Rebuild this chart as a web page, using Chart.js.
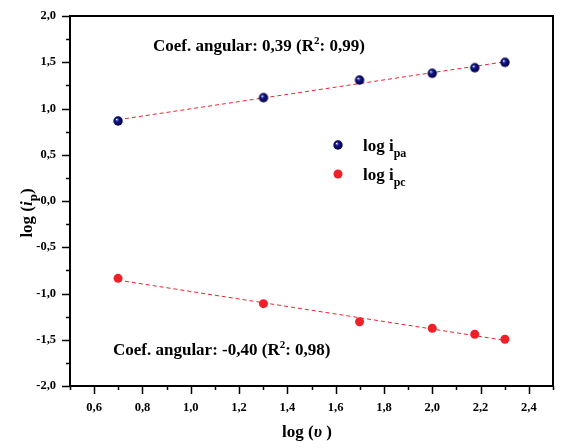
<!DOCTYPE html>
<html>
<head>
<meta charset="utf-8">
<script src="https://cdn.jsdelivr.net/npm/chart.js@4.4.1/dist/chart.umd.min.js"></script>
<style>
  html, body { margin: 0; padding: 0; background: #fff; }
  #wrap { width: 564px; height: 448px; }
</style>
</head>
<body>
<div id="wrap"><canvas id="chartLog"></canvas></div>
<script>
// log(v) pour chaque vitesse de balayage
const logV = [0.699, 1.301, 1.699, 2.0, 2.176, 2.301];
// log(ipa) et log(ipc)
const logIpa = [0.865, 1.117, 1.308, 1.381, 1.441, 1.499];
const logIpc = [-0.836, -1.110, -1.305, -1.376, -1.441, -1.495];

const xTicks = [0.6, 0.8, 1.0, 1.2, 1.4, 1.6, 1.8, 2.0, 2.2, 2.4];
const yTicks = [-2.0, -1.5, -1.0, -0.5, 0.0, 0.5, 1.0, 1.5, 2.0];

const SERIF = "'Liberation Serif', 'Times New Roman', serif";
const RED = "#ee2129";
const FIT = "#e8262e";

function fmt(v) {
    return v.toFixed(1).replace(".", ",");
}

// régression linéaire simple -> segment entre le premier et le dernier x
function fitLine(xs, ys) {
    const n = xs.length;
    const mx = xs.reduce((a, b) => a + b, 0) / n;
    const my = ys.reduce((a, b) => a + b, 0) / n;
    let sxy = 0, sxx = 0;
    for (let i = 0; i < n; i++) {
        sxy += (xs[i] - mx) * (ys[i] - my);
        sxx += (xs[i] - mx) * (xs[i] - mx);
    }
    const b = sxy / sxx;
    const a = my - b * mx;
    const x0 = xs[0], x1 = xs[n - 1];
    return [{ x: x0, y: a + b * x0 }, { x: x1, y: a + b * x1 }];
}

// petite bille bleue avec reflet
function makeBall(r) {
    const c = document.createElement("canvas");
    const s = Math.ceil(r * 2 + 2);
    c.width = s;
    c.height = s;
    const g = c.getContext("2d");
    const cx = s / 2, cy = s / 2;
    const grad = g.createRadialGradient(cx - r * 0.3, cy - r * 0.35, 0.2, cx, cy, r);
    grad.addColorStop(0, "#ffffff");
    grad.addColorStop(0.18, "#5a5ac8");
    grad.addColorStop(0.4, "#12127e");
    grad.addColorStop(1, "#000045");
    g.fillStyle = grad;
    g.beginPath();
    g.arc(cx, cy, r, 0, Math.PI * 2);
    g.fill();
    return c;
}
const ball = makeBall(4.7);

const toPts = (ys) => logV.map((x, i) => ({ x: x, y: ys[i] }));

// texte avec indices / exposants
function drawRich(ctx, x, y, parts) {
    let cx = x;
    parts.forEach((p) => {
        ctx.font = p.font;
        ctx.fillText(p.t, cx, y + (p.dy || 0));
        cx += ctx.measureText(p.t).width;
    });
}
function richWidth(ctx, parts) {
    let w = 0;
    parts.forEach((p) => {
        ctx.font = p.font;
        w += ctx.measureText(p.t).width;
    });
    return w;
}

const decor = {
    id: "decor",
    afterDraw(chart) {
        const { ctx, chartArea: ca, scales } = chart;
        const xs = scales.x, ys = scales.y;
        ctx.save();
        ctx.strokeStyle = "#000";
        ctx.fillStyle = "#000";

        // cadre
        ctx.lineWidth = 2;
        ctx.strokeRect(ca.left, ca.top, ca.right - ca.left, ca.bottom - ca.top);

        // graduations x (0,1) et y (0,25)
        ctx.lineWidth = 1.5;
        ctx.beginPath();
        for (let i = 5; i <= 25; i++) {
            const px = Math.round(xs.getPixelForValue(i / 10)) + 0.5;
            const len = i % 2 === 0 ? 8 : 4;
            ctx.moveTo(px, ca.bottom);
            ctx.lineTo(px, ca.bottom + len);
        }
        for (let j = -8; j <= 8; j++) {
            const py = Math.round(ys.getPixelForValue(j / 4)) + 0.5;
            const len = j % 2 === 0 ? 8 : 4;
            ctx.moveTo(ca.left, py);
            ctx.lineTo(ca.left - len, py);
        }
        ctx.stroke();

        ctx.textBaseline = "alphabetic";
        ctx.textAlign = "left";
        const b17 = "bold 17px " + SERIF;
        const b11 = "bold 11px " + SERIF;
        const b12 = "bold 12px " + SERIF;

        // coefficients angulaires
        drawRich(ctx, 153, 51, [
            { t: "Coef. angular: 0,39 (R", font: b17 },
            { t: "2", font: b11, dy: -7 },
            { t: ": 0,99)", font: b17 },
        ]);
        drawRich(ctx, 113, 355, [
            { t: "Coef. angular: -0,40 (R", font: b17 },
            { t: "2", font: b11, dy: -7 },
            { t: ": 0,98)", font: b17 },
        ]);

        // légende
        ctx.drawImage(ball, 338 - ball.width / 2, 145 - ball.height / 2);
        ctx.fillStyle = RED;
        ctx.beginPath();
        ctx.arc(338, 174, 4.5, 0, Math.PI * 2);
        ctx.fill();
        ctx.fillStyle = "#000";
        drawRich(ctx, 363, 151, [
            { t: "log i", font: b17 },
            { t: "pa", font: b12, dy: 6 },
        ]);
        drawRich(ctx, 363, 180, [
            { t: "log i", font: b17 },
            { t: "pc", font: b12, dy: 6 },
        ]);

        // titre axe x
        const xt = [
            { t: "log (", font: b17 },
            { t: "\u03c5", font: "italic bold 17px " + SERIF },
            { t: " )", font: b17 },
        ];
        drawRich(ctx, 307 - richWidth(ctx, xt) / 2, 437, xt);

        // titre axe y (vertical)
        const yt = [
            { t: "log (", font: b17 },
            { t: "i", font: "italic bold 17px " + SERIF },
            { t: "p", font: "bold 13px " + SERIF, dy: 5 },
            { t: ")", font: b17 },
        ];
        ctx.translate(32, 213);
        ctx.rotate(-Math.PI / 2);
        drawRich(ctx, -richWidth(ctx, yt) / 2, 0, yt);

        ctx.restore();
    },
};

new Chart(document.getElementById("chartLog"), {
    type: "scatter",
    data: {
        datasets: [
            {
                label: "log ipa",
                data: toPts(logIpa),
                pointStyle: ball,
                pointRadius: 4.7,
                order: 1,
            },
            {
                label: "log ipc",
                data: toPts(logIpc),
                backgroundColor: RED,
                borderWidth: 0,
                pointRadius: 4.5,
                order: 1,
            },
            {
                type: "line",
                label: "fit ipa",
                data: fitLine(logV, logIpa),
                borderColor: FIT,
                borderWidth: 1,
                borderDash: [4, 3],
                pointRadius: 0,
                order: 2,
            },
            {
                type: "line",
                label: "fit ipc",
                data: fitLine(logV, logIpc),
                borderColor: FIT,
                borderWidth: 1,
                borderDash: [4, 3],
                pointRadius: 0,
                order: 2,
            },
        ],
    },
    options: {
        responsive: true,
        maintainAspectRatio: false,
        animation: false,
        layout: { padding: { top: 16, right: 11, left: 0, bottom: 0 } },
        plugins: {
            legend: { display: false },
            tooltip: { enabled: false },
        },
        scales: {
            x: {
                type: "linear",
                min: 0.5,
                max: 2.5,
                grid: { display: false },
                border: { display: false },
                afterBuildTicks: (s) => { s.ticks = xTicks.map((v) => ({ value: v })); },
                afterFit: (s) => { s.height = 62; },
                ticks: {
                    padding: 6,
                    color: "#000",
                    font: { family: SERIF, size: 12.5, weight: "bold" },
                    callback: (v) => fmt(v),
                },
            },
            y: {
                type: "linear",
                min: -2,
                max: 2,
                grid: { display: false },
                border: { display: false },
                afterBuildTicks: (s) => { s.ticks = yTicks.map((v) => ({ value: v })); },
                afterFit: (s) => { s.width = 70; },
                ticks: {
                    padding: 6,
                    color: "#000",
                    font: { family: SERIF, size: 12.5, weight: "bold" },
                    callback: (v) => fmt(v),
                },
            },
        },
    },
    plugins: [decor],
});
</script>
</body>
</html>
